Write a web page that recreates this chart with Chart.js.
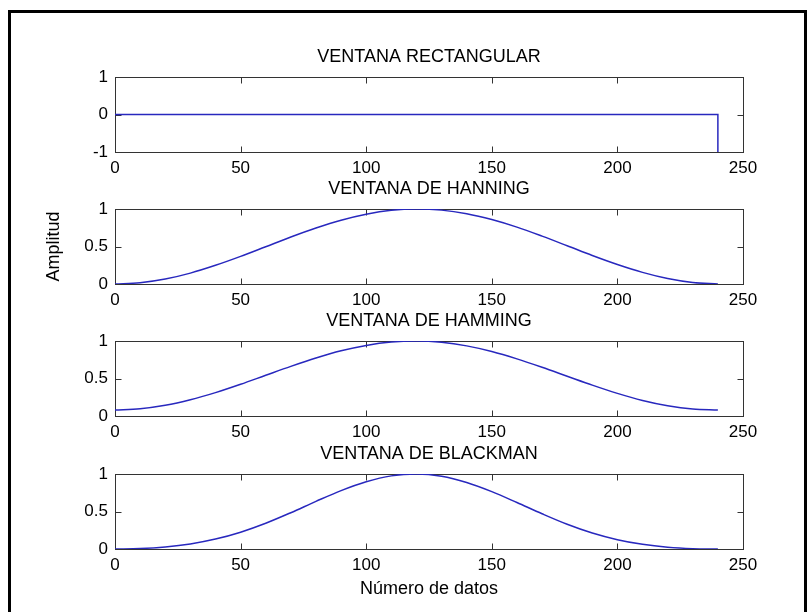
<!DOCTYPE html>
<html lang="es">
<head>
  <meta charset="UTF-8">
  <title>Ventanas</title>
  <style>
    html, body { margin: 0; padding: 0; background: #fff; }
    body { width: 807px; height: 612px; position: relative; overflow: hidden; }
    #marco { position: absolute; left: 8px; top: 10px; width: 799px; height: 640px; border: 3px solid #000; box-sizing: border-box; }
    canvas { position: absolute; left: 0; }
  </style>
</head>
<body>
  <div id="marco"></div>
  <canvas id="rect"></canvas>
  <canvas id="hann"></canvas>
  <canvas id="hamm"></canvas>
  <canvas id="black"></canvas>

  <script src="https://cdn.jsdelivr.net/npm/chart.js"></script>
  <script>
    // valores (cada 10 muestras)
    const muestras = [0, 10, 20, 30, 40, 50, 60, 70, 80, 90, 100, 110, 120,
                      130, 140, 150, 160, 170, 180, 190, 200, 210, 220, 230, 240];
    const rectX = [0, 240, 240];
    const rectY = [0, 0, -1];
    const hanning = [0.000, 0.017, 0.066, 0.145, 0.249, 0.368, 0.497, 0.626, 0.746, 0.850, 0.930, 0.982, 1.000,
                     0.985, 0.937, 0.859, 0.758, 0.638, 0.510, 0.380, 0.260, 0.155, 0.073, 0.020, 0.000];
    const hamming = [0.080, 0.096, 0.142, 0.216, 0.312, 0.423, 0.543, 0.662, 0.773, 0.869, 0.941, 0.986, 1.000,
                     0.983, 0.935, 0.860, 0.762, 0.650, 0.531, 0.412, 0.302, 0.208, 0.137, 0.093, 0.080];
    const blackman = [0.000, 0.006, 0.027, 0.067, 0.132, 0.224, 0.343, 0.484, 0.635, 0.779, 0.897, 0.975, 1.000,
                      0.970, 0.887, 0.765, 0.620, 0.470, 0.330, 0.213, 0.124, 0.062, 0.024, 0.005, 0.000];
    const xTicks = [0, 50, 100, 150, 200, 250];
    const yTicksRect = [-1, 0, 1];
    const yTicksVent = [0, 0.5, 1];

    const fuente = "'Liberation Sans', Arial, sans-serif";
    const azul = 'rgb(40,40,190)';

    // caja y marcas hacia dentro, estilo matlab
    const caja = {
      id: 'caja',
      beforeDatasetsDraw(chart) {
        const { ctx, chartArea: a, scales: { x, y } } = chart;
        const L = Math.round(a.left) + 0.5, R = Math.round(a.right) + 0.5;
        const T = Math.round(a.top) + 0.5, B = Math.round(a.bottom) + 0.5;
        const tl = 6;
        ctx.save();
        ctx.strokeStyle = '#333';
        ctx.lineWidth = 1;
        ctx.strokeRect(L, T, R - L, B - T);
        ctx.beginPath();
        x.ticks.forEach(t => {
          const px = Math.round(x.getPixelForValue(t.value)) + 0.5;
          ctx.moveTo(px, B); ctx.lineTo(px, B - tl);
          ctx.moveTo(px, T); ctx.lineTo(px, T + tl);
        });
        y.ticks.forEach(t => {
          const py = Math.round(y.getPixelForValue(t.value)) + 0.5;
          ctx.moveTo(L, py); ctx.lineTo(L + tl, py);
          ctx.moveTo(R, py); ctx.lineTo(R - tl, py);
        });
        ctx.stroke();
        ctx.restore();
      }
    };

    function ventana(id, plotTop, titulo, xs, ys, yMin, yMax, yTicks, extra) {
      extra = extra || {};
      const altoX = extra.altoX || 40;
      const cv = document.getElementById(id);
      cv.width = 807;
      cv.height = 30 + 75 + altoX;
      cv.style.top = (plotTop - 30) + 'px';

      new Chart(cv.getContext('2d'), {
        type: 'line',
        data: {
          datasets: [{
            data: xs.map((v, i) => ({ x: v, y: ys[i] })),
            borderColor: azul,
            borderWidth: 1.5,
            pointRadius: 0,
            fill: false,
            cubicInterpolationMode: extra.recto ? 'default' : 'monotone',
            tension: extra.recto ? 0 : 0.4
          }]
        },
        options: {
          responsive: false,
          animation: false,
          events: [],
          layout: { padding: { left: 0, right: 64, top: 0, bottom: 0 } },
          plugins: {
            legend: { display: false },
            tooltip: { enabled: false }
          },
          scales: {
            // eje superior solo para el titulo, centrado sobre el area
            arriba: {
              type: 'linear',
              position: 'top',
              min: 0, max: 250,
              afterFit: s => { s.height = 30; },
              grid: { display: false, drawTicks: false },
              border: { display: false },
              ticks: { display: false },
              title: {
                display: true,
                text: titulo,
                color: '#000',
                font: { family: fuente, size: 18, lineHeight: 1 },
                padding: { top: 1, bottom: 0 }
              }
            },
            x: {
              type: 'linear',
              min: 0, max: 250,
              afterBuildTicks: s => { s.ticks = xTicks.map(v => ({ value: v })); },
              afterFit: s => { s.height = altoX; },
              grid: { display: false, drawTicks: false },
              border: { display: false },
              ticks: { color: '#000', padding: 6, maxRotation: 0, font: { family: fuente, size: 17 } },
              title: {
                display: !!extra.tituloX,
                text: extra.tituloX || '',
                color: '#000',
                font: { family: fuente, size: 18, lineHeight: 1 },
                padding: { top: 0, bottom: 1 }
              }
            },
            y: {
              type: 'linear',
              min: yMin, max: yMax,
              afterBuildTicks: s => { s.ticks = yTicks.map(v => ({ value: v })); },
              afterFit: s => { s.width = 115; },
              grid: { display: false, drawTicks: false },
              border: { display: false },
              ticks: { color: '#000', padding: 7, font: { family: fuente, size: 17 }, callback: v => String(v) },
              title: {
                display: !!extra.tituloY,
                text: extra.tituloY || '',
                color: '#000',
                font: { family: fuente, size: 18, lineHeight: 1 },
                padding: { top: 45, bottom: 0 }
              }
            }
          }
        },
        plugins: [caja]
      });
    }

    ventana('rect', 77, 'VENTANA RECTANGULAR', rectX, rectY, -1, 1, yTicksRect, { recto: true });
    ventana('hann', 209, 'VENTANA DE HANNING', muestras, hanning, 0, 1, yTicksVent, { tituloY: 'Amplitud' });
    ventana('hamm', 341, 'VENTANA DE HAMMING', muestras, hamming, 0, 1, yTicksVent);
    ventana('black', 474, 'VENTANA DE BLACKMAN', muestras, blackman, 0, 1, yTicksVent, { altoX: 50, tituloX: 'Número de datos' });
  </script>
</body>
</html>
